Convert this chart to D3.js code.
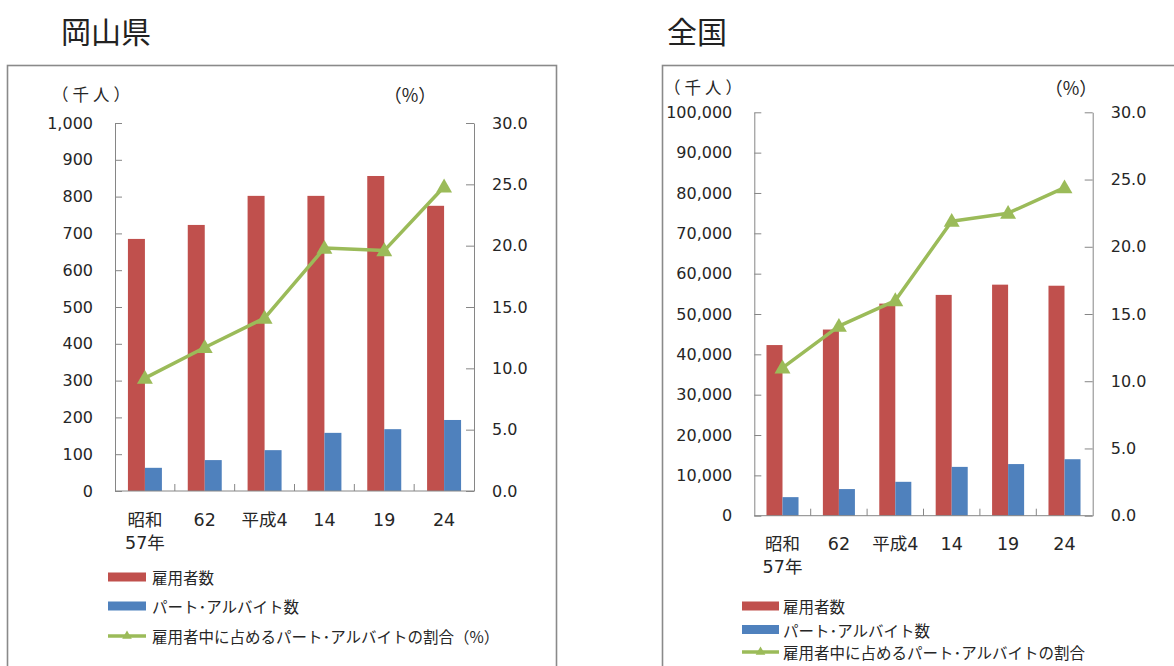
<!DOCTYPE html>
<html><head><meta charset="utf-8">
<script src="https://cdn.jsdelivr.net/npm/d3@7"></script>
<style>body{margin:0;background:#fff} svg{display:block}</style>
</head><body>
<svg id="c" width="1174" height="666"></svg>
<script>
// ---- data ----
const categories = ["昭和\n57年", "62", "平成4", "14", "19", "24"];
const okayamaEmployees = [685, 723, 802, 802, 856, 775];
const okayamaPartTime = [63, 84, 111, 158, 168, 193];
const okayamaRatio = [9.2, 11.7, 14.1, 19.8, 19.6, 24.8];
const zenkokuEmployees = [42300, 46150, 52575, 54733, 57274, 57009];
const zenkokuPartTime = [4600, 6600, 8400, 12100, 12800, 14000];
const zenkokuRatio = [11.0, 14.1, 16.0, 21.9, 22.5, 24.4];
const okayamaTicks = [0, 100, 200, 300, 400, 500, 600, 700, 800, 900, 1000];
const zenkokuTicks = [0, 10000, 20000, 30000, 40000, 50000, 60000, 70000, 80000, 90000, 100000];
const pctTicks = [0, 5, 10, 15, 20, 25, 30];
const seriesNames = ["雇用者数", "パート･アルバイト数"];
const titles = ["岡山県", "全国"];
const ratioNames = ["雇用者中に占めるパート･アルバイトの割合（%）", "雇用者中に占めるパート･アルバイトの割合"];

const RED = "#C0504D", BLUE = "#4F81BD", GREEN = "#9BBB59", AXIS = "#868686", TXT = "#262626";
const NUMFONT = "'DejaVu Sans', 'Noto Sans CJK JP', sans-serif";
const JPFONT = "'Noto Sans CJK JP', 'DejaVu Sans', sans-serif";

const svg = d3.select("#c");

function drawChart(cfg) {
  const g = svg.append("g");
  // frame
  g.append("rect").attr("x", cfg.frame[0]).attr("y", cfg.frame[1])
    .attr("width", cfg.frame[2]).attr("height", cfg.frame[3])
    .attr("fill", "none").attr("stroke", "#8a8a8a").attr("stroke-width", 1.6);
  // title
  g.append("text").attr("x", cfg.titleX).attr("y", 30).attr("dominant-baseline", "central")
    .attr("font-family", JPFONT).attr("font-size", 30).attr("fill", "#222").text(cfg.title);

  const x = d3.scaleBand().domain(categories).range([cfg.x0, cfg.x1]).padding(0);
  const y = d3.scaleLinear().domain([0, cfg.yMax]).range([cfg.yBase, cfg.yTop]);
  const y2 = d3.scaleLinear().domain([0, 30]).range([cfg.yBase, cfg.yTop]);
  const bw = x.bandwidth() * 0.284;

  // bars
  g.append("g").selectAll("rect").data(cfg.employees).join("rect")
    .attr("x", (d, i) => x(categories[i]) + x.bandwidth() / 2 - bw)
    .attr("y", d => y(d)).attr("width", bw).attr("height", d => cfg.yBase - y(d))
    .attr("fill", RED);
  g.append("g").selectAll("rect").data(cfg.partTime).join("rect")
    .attr("x", (d, i) => x(categories[i]) + x.bandwidth() / 2)
    .attr("y", d => y(d)).attr("width", bw).attr("height", d => cfg.yBase - y(d))
    .attr("fill", BLUE);

  // left axis
  const la = g.append("g").attr("transform", `translate(${cfg.x0},0)`)
    .call(d3.axisLeft(y).tickValues(cfg.ticks).tickFormat(d3.format(","))
      .tickSizeInner(-7).tickSizeOuter(0).tickPadding(22));
  // right axis
  const ra = g.append("g").attr("transform", `translate(${cfg.x1},0)`)
    .call(d3.axisRight(y2).tickValues(pctTicks).tickFormat(d3.format(".1f"))
      .tickSizeInner(-8).tickSizeOuter(0).tickPadding(18));
  [la, ra].forEach(a => {
    a.selectAll("path,line").attr("stroke", AXIS).attr("stroke-width", 1);
    a.selectAll("text").attr("font-family", NUMFONT).attr("font-size", 16).attr("fill", TXT);
  });

  // bottom axis
  g.append("line").attr("x1", cfg.x0).attr("x2", cfg.x1).attr("y1", cfg.yBase).attr("y2", cfg.yBase)
    .attr("stroke", AXIS).attr("stroke-width", 1);
  g.append("g").selectAll("line").data(categories.slice(1)).join("line")
    .attr("x1", d => x(d)).attr("x2", d => x(d))
    .attr("y1", cfg.yBase).attr("y2", cfg.yBase - 7)
    .attr("stroke", AXIS).attr("stroke-width", 1);
  const cl = g.append("g").selectAll("text").data(categories).join("text")
    .attr("x", d => x(d) + x.bandwidth() / 2).attr("y", cfg.yBase + cfg.catDy)
    .attr("text-anchor", "middle").attr("font-family", NUMFONT).attr("font-size", 17.5)
    .attr("fill", TXT);
  cl.each(function (d) {
    const lines = d.split("\n");
    const t = d3.select(this);
    lines.forEach((s, k) => {
      t.append("tspan").attr("x", t.attr("x")).attr("dy", k === 0 ? "0.35em" : 23).text(s);
    });
  });

  // line
  const pts = cfg.ratio.map((v, i) => [x(categories[i]) + x.bandwidth() / 2, y2(v)]);
  g.append("path").datum(pts).attr("d", d3.line())
    .attr("fill", "none").attr("stroke", GREEN).attr("stroke-width", 3.5).attr("stroke-linejoin", "round");
  g.append("g").selectAll("path").data(pts).join("path")
    .attr("transform", d => `translate(${d[0]},${d[1] + 1})`)
    .attr("d", d3.symbol(d3.symbolTriangle, 110)).attr("fill", GREEN);

  // unit labels
  g.append("text").attr("x", cfg.unitX).attr("y", cfg.unitY).attr("dominant-baseline", "central")
    .attr("font-family", JPFONT).attr("font-size", 16.5).attr("letter-spacing", 4).attr("fill", TXT).text("（千人）");
  g.append("text").attr("x", cfg.pctX).attr("y", cfg.unitY).attr("dominant-baseline", "central")
    .attr("text-anchor", "middle")
    .attr("font-family", JPFONT).attr("font-size", 18).attr("fill", TXT).text("（%）");

  // legend
  const L = cfg.legend;
  [RED, BLUE].forEach((c, k) => {
    g.append("rect").attr("x", L.x).attr("y", L.ys[k] - 4.5).attr("width", L.w).attr("height", 9).attr("fill", c);
    g.append("text").attr("x", L.tx).attr("y", L.ys[k]).attr("dominant-baseline", "central")
      .attr("font-family", JPFONT).attr("font-size", 15.5).attr("fill", TXT).text(seriesNames[k]);
  });
  g.append("line").attr("x1", L.x).attr("x2", L.x + L.w).attr("y1", L.ys[2]).attr("y2", L.ys[2])
    .attr("stroke", GREEN).attr("stroke-width", 3.5);
  g.append("path").attr("transform", `translate(${L.x + L.w / 2},${L.ys[2]})`)
    .attr("d", d3.symbol(d3.symbolTriangle, 40)).attr("fill", GREEN);
  g.append("text").attr("x", L.tx).attr("y", L.ys[2]).attr("dominant-baseline", "central")
    .attr("font-family", JPFONT).attr("font-size", 15.5).attr("fill", TXT).text(cfg.ratioName);
}

drawChart({
  title: titles[0], titleX: 61, frame: [7.5, 65.5, 549, 640],
  x0: 115, x1: 474, yTop: 123, yBase: 491, yMax: 1000, ticks: okayamaTicks,
  employees: okayamaEmployees, partTime: okayamaPartTime, ratio: okayamaRatio,
  catDy: 29, unitX: 52, unitY: 94, pctX: 410,
  legend: { x: 108, w: 38, ys: [577, 606, 636], tx: 152 }, ratioName: ratioNames[0]
});
drawChart({
  title: titles[1], titleX: 667, frame: [662.5, 65.5, 560, 640],
  x0: 754.3, x1: 1092.7, yTop: 112.3, yBase: 515.7, yMax: 100000, ticks: zenkokuTicks,
  employees: zenkokuEmployees, partTime: zenkokuPartTime, ratio: zenkokuRatio,
  catDy: 28, unitX: 664, unitY: 87, pctX: 1071,
  legend: { x: 742, w: 37, ys: [606, 629.5, 652], tx: 783 }, ratioName: ratioNames[1]
});
</script>
</body></html>
